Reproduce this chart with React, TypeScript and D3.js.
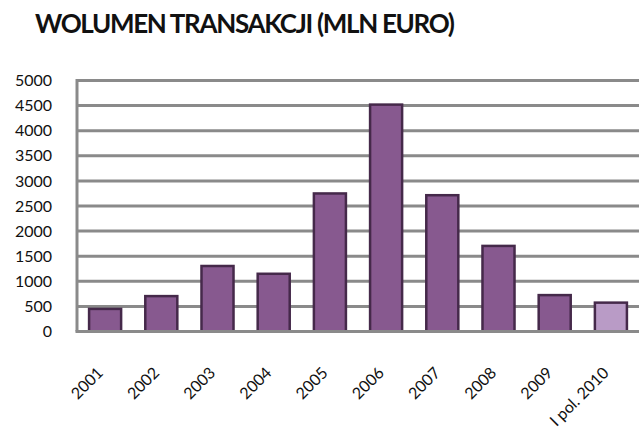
import React from "react";
import * as d3 from "d3";

const categories = ["2001", "2002", "2003", "2004", "2005", "2006", "2007", "2008", "2009", "I pol. 2010"];
const values = [450, 705, 1305, 1150, 2750, 4520, 2715, 1705, 725, 575];
const highlight = [false, false, false, false, false, false, false, false, false, true];
const yTicks = [0, 500, 1000, 1500, 2000, 2500, 3000, 3500, 4000, 4500, 5000];
const title = "WOLUMEN TRANSAKCJI (MLN EURO)";

const W = 640;
const H = 447;
const left = 77;
const right = 639;
const top = 80.5;
const bottom = 331.5;

export default function App() {
  const x = d3.scaleBand<string>().domain(categories).range([left, right]).paddingInner(0.43).paddingOuter(0.215);
  const y = d3.scaleLinear().domain([0, 5000]).range([bottom, top]);
  const grid = "#8a8a8a";
  const font = "Lato, 'Open Sans', sans-serif";
  return (
    <svg width={W} height={H} style={{ position: "absolute", left: 0, top: 0, background: "#fff" }}>
      <text x={35} y={33} fontFamily={font} fontWeight={700} fontSize={26} textLength={420} lengthAdjust="spacing" fill="#111">
        {title}
      </text>
      {yTicks.map((t) => (
        <g key={t}>
          {t > 0 && <line x1={left} x2={right} y1={y(t)} y2={y(t)} stroke={grid} strokeWidth={3} />}
          <text x={52} y={y(t)} dy="0.35em" textAnchor="end" fontFamily={font} fontSize={16} fill="#111">
            {t}
          </text>
        </g>
      ))}
      <line x1={left} x2={left} y1={top - 1.5} y2={bottom} stroke={grid} strokeWidth={3} />
      {categories.map((c, i) => (
        <rect
          key={c}
          x={x(c)}
          y={y(values[i])}
          width={x.bandwidth()}
          height={bottom - y(values[i])}
          fill={highlight[i] ? "#b99bc6" : "#87598f"}
          stroke="#45294a"
          strokeWidth={2.5}
        />
      ))}
      <line x1={left - 1.5} x2={right} y1={bottom} y2={bottom} stroke={grid} strokeWidth={3} />
      {categories.map((c) => {
        const cx = (x(c) as number) + x.bandwidth() / 2 - 9;
        const cy = 366;
        return (
          <text
            key={c}
            x={cx}
            y={cy}
            textAnchor="end"
            dy="0.7em"
            transform={`rotate(-45, ${cx}, ${cy})`}
            fontFamily={font}
            fontSize={16}
            fill="#111"
          >
            {c}
          </text>
        );
      })}
    </svg>
  );
}
